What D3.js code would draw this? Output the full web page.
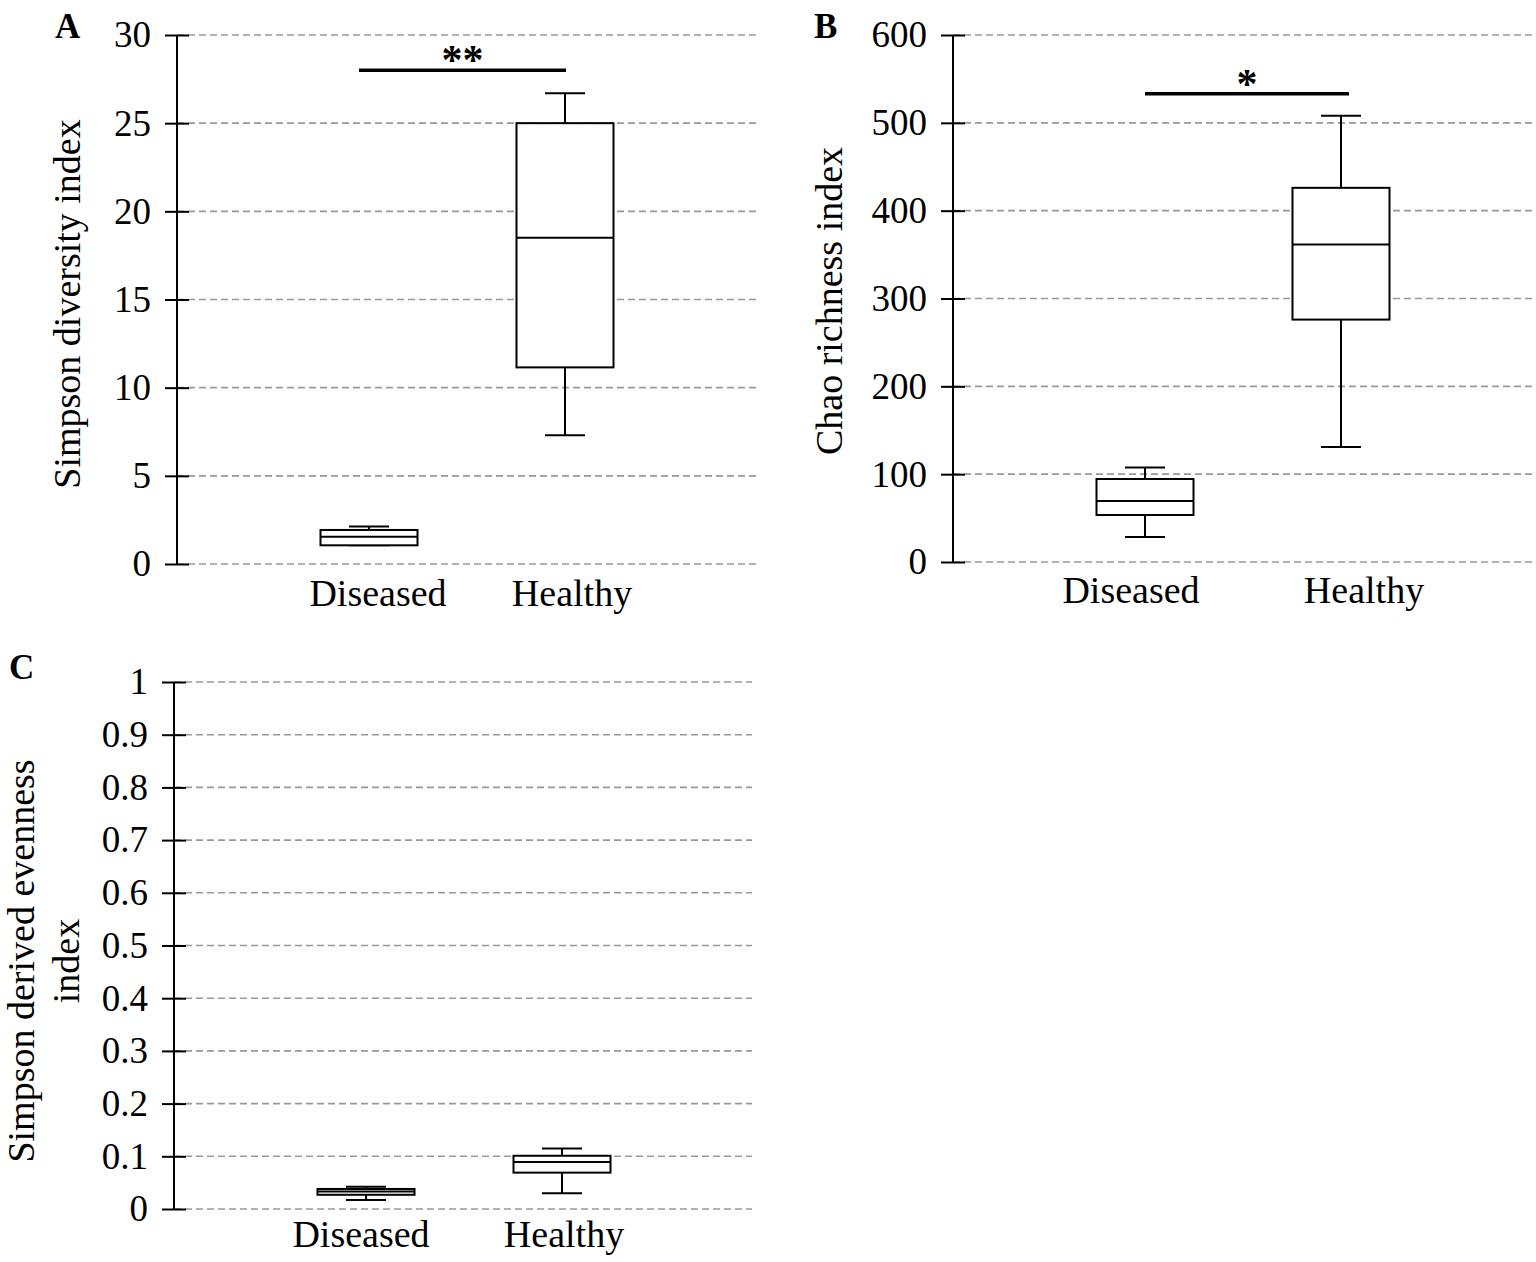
<!DOCTYPE html>
<html>
<head>
<meta charset="utf-8">
<script src="https://cdn.jsdelivr.net/npm/d3@7"></script>
<style>
  body { margin: 0; background: #fff; }
  svg { display: block; font-family: "Liberation Serif", "Times New Roman", serif; }
</style>
</head>
<body>
<div id="chart"></div>
<script>
// groups on the x axis
const groups = ["Diseased", "Healthy"];

// box stats: [Diseased, Healthy]
const simpsonStats = [
  { min: 1.06, q1: 1.06, median: 1.55, q3: 1.93, max: 2.12 },
  { min: 7.3, q1: 11.15, median: 18.5, q3: 25.0, max: 26.7 }
];
const chaoStats = [
  { min: 28.5, q1: 53.5, median: 69.5, q3: 94.5, max: 107.5 },
  { min: 131, q1: 276, median: 361.5, q3: 426, max: 508 }
];
const evennessStats = [
  { min: 0.017, q1: 0.027, median: 0.033, q3: 0.038, max: 0.042 },
  { min: 0.030, q1: 0.069, median: 0.089, q3: 0.101, max: 0.115 }
];

// tick values
const simpsonTicks = [0, 5, 10, 15, 20, 25, 30];
const chaoTicks = [0, 100, 200, 300, 400, 500, 600];
const evennessTicks = [0, 0.1, 0.2, 0.3, 0.4, 0.5, 0.6, 0.7, 0.8, 0.9, 1];

// significance bars
const simpsonSig = { value: 28.0, label: "**" };
const chaoSig = { value: 533, label: "*" };

const width = 1536;
const height = 1262;

const svg = d3.select("#chart")
  .append("svg")
  .attr("width", width)
  .attr("height", height);

const panels = [
  {
    letter: "A", stats: simpsonStats, ticks: simpsonTicks, domain: [0, 30], sig: simpsonSig,
    title: ["Simpson diversity index"],
    axisX: 177, top: 35, bottom: 564, gridEnd: 756,
    letterPos: [55, 38], titleX: [80], titleY: 304, labelBase: 42, labelShift: [9, 7],
    sigShift: [-10, 1]
  },
  {
    letter: "B", stats: chaoStats, ticks: chaoTicks, domain: [0, 600], sig: chaoSig,
    title: ["Chao richness index"],
    axisX: 953, top: 35, bottom: 562, gridEnd: 1536,
    letterPos: [814, 38], titleX: [842], titleY: 301, labelBase: 41, labelShift: [-14, 23],
    sigShift: [0, 8]
  },
  {
    letter: "C", stats: evennessStats, ticks: evennessTicks, domain: [0, 1], sig: null,
    title: ["Simpson derived evenness", "index"],
    axisX: 174, top: 682, bottom: 1209, gridEnd: 752,
    letterPos: [9, 679], titleX: [34, 79], titleY: 961, labelBase: 38, labelShift: [-5, 2],
    sigShift: [0, 0]
  }
];

const boxWidth = 97;
const capWidth = 40;

panels.forEach(p => {
  const g = svg.append("g");

  const y = d3.scaleLinear().domain(p.domain).range([p.bottom, p.top]);
  const x = d3.scalePoint()
    .domain(groups)
    .range([p.axisX + 192, p.axisX + 388]);

  // dashed gridlines
  g.append("g")
    .selectAll("line")
    .data(p.ticks)
    .join("line")
    .attr("x1", p.axisX)
    .attr("x2", p.gridEnd)
    .attr("y1", d => y(d))
    .attr("y2", d => y(d))
    .attr("stroke", "#999")
    .attr("stroke-width", 1.6)
    .attr("stroke-dasharray", "7,4");

  // y axis, ticks crossing the axis line
  const axis = g.append("g")
    .attr("transform", `translate(${p.axisX + 12},0)`)
    .call(d3.axisLeft(y)
      .tickValues(p.ticks)
      .tickSize(24)
      .tickPadding(14)
      .tickFormat(d => String(+d.toFixed(2))));
  axis.select(".domain").remove();
  axis.selectAll(".tick line").attr("stroke", "#000").attr("stroke-width", 2);
  axis.selectAll(".tick text")
    .attr("fill", "#000")
    .style("font-size", "37px")
    .style("font-family", "'Liberation Serif', 'Times New Roman', serif");

  g.append("line")
    .attr("x1", p.axisX).attr("x2", p.axisX)
    .attr("y1", y(p.domain[1])).attr("y2", y(p.domain[0]))
    .attr("stroke", "#000").attr("stroke-width", 2);

  // boxes
  const boxes = g.append("g")
    .selectAll("g")
    .data(p.stats.map((s, i) => ({ ...s, group: groups[i] })))
    .join("g")
    .attr("stroke", "#000")
    .attr("stroke-width", 2);

  boxes.append("line")
    .attr("x1", d => x(d.group)).attr("x2", d => x(d.group))
    .attr("y1", d => y(d.max)).attr("y2", d => y(d.q3));
  boxes.append("line")
    .attr("x1", d => x(d.group)).attr("x2", d => x(d.group))
    .attr("y1", d => y(d.q1)).attr("y2", d => y(d.min));
  boxes.append("line")
    .attr("x1", d => x(d.group) - capWidth / 2).attr("x2", d => x(d.group) + capWidth / 2)
    .attr("y1", d => y(d.max)).attr("y2", d => y(d.max));
  boxes.append("line")
    .attr("x1", d => x(d.group) - capWidth / 2).attr("x2", d => x(d.group) + capWidth / 2)
    .attr("y1", d => y(d.min)).attr("y2", d => y(d.min));
  boxes.append("rect")
    .attr("x", d => x(d.group) - boxWidth / 2)
    .attr("width", boxWidth)
    .attr("y", d => y(d.q3))
    .attr("height", d => y(d.q1) - y(d.q3))
    .attr("fill", "#fff");
  boxes.append("line")
    .attr("x1", d => x(d.group) - boxWidth / 2).attr("x2", d => x(d.group) + boxWidth / 2)
    .attr("y1", d => y(d.median)).attr("y2", d => y(d.median));

  // category labels
  g.append("g")
    .selectAll("text")
    .data(groups)
    .join("text")
    .attr("x", (d, i) => x(d) + p.labelShift[i])
    .attr("y", p.bottom + p.labelBase)
    .attr("text-anchor", "middle")
    .style("font-size", "38px")
    .text(d => d);

  // axis title
  const title = g.append("text")
    .attr("transform", `translate(0,${p.titleY}) rotate(-90)`)
    .attr("text-anchor", "middle")
    .style("font-size", "38px");
  p.title.forEach((t, i) => {
    title.append("tspan")
      .attr("x", 0)
      .attr("y", p.titleX[i])
      .text(t);
  });

  // panel letter
  g.append("text")
    .attr("x", p.letterPos[0])
    .attr("y", p.letterPos[1])
    .style("font-size", "35px")
    .style("font-weight", "bold")
    .text(p.letter);

  // significance bar
  if (p.sig) {
    const x1 = x(groups[0]) + p.sigShift[0];
    const x2 = x(groups[1]) + p.sigShift[1];
    g.append("line")
      .attr("x1", x1).attr("x2", x2)
      .attr("y1", y(p.sig.value)).attr("y2", y(p.sig.value))
      .attr("stroke", "#000")
      .attr("stroke-width", 3.5);
    g.append("text")
      .attr("x", (x1 + x2) / 2)
      .attr("y", y(p.sig.value) + 4)
      .attr("text-anchor", "middle")
      .style("font-size", "42px")
      .style("font-weight", "bold")
      .text(p.sig.label);
  }
});
</script>
</body>
</html>
